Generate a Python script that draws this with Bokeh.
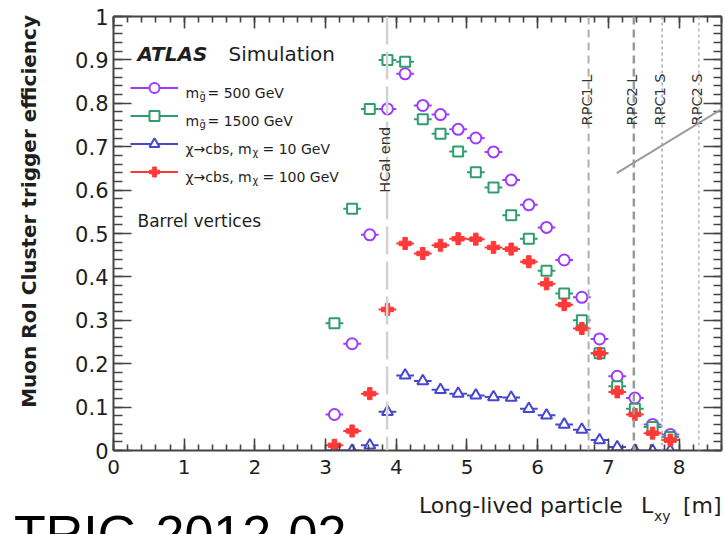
import math
import numpy as np
from bokeh.plotting import figure
from bokeh.layouts import column, row
from bokeh.models import (Range1d, LinearAxis, SingleIntervalTicker, PrintfTickFormatter,
                          Span, Label, Legend, LegendItem, Arrow, ColumnDataSource, Div)
from bokeh.embed import file_html
from bokeh.resources import INLINE

# ---------------- data ----------------
lxy = [3.125, 3.375, 3.625, 3.875, 4.125, 4.375, 4.625, 4.875, 5.125, 5.375,
       5.625, 5.875, 6.125, 6.375, 6.625, 6.875, 7.125, 7.375, 7.625, 7.875]
bin_half_width = 0.125

eff_gluino500 = [0.083, 0.246, 0.497, 0.787, 0.868, 0.795, 0.774, 0.740, 0.720, 0.688,
                 0.623, 0.566, 0.514, 0.439, 0.353, 0.257, 0.171, 0.121, 0.060, 0.037]
eff_gluino1500 = [0.293, 0.557, 0.787, 0.900, 0.896, 0.763, 0.730, 0.689, 0.641, 0.606,
                  0.542, 0.488, 0.414, 0.362, 0.300, 0.224, 0.148, 0.096, 0.054, 0.031]
eff_chi10 = [0.000, 0.000, 0.012, 0.089, 0.173, 0.160, 0.140, 0.131, 0.127, 0.123,
             0.122, 0.096, 0.081, 0.060, 0.048, 0.024, 0.008, 0.000, 0.000, 0.000]
eff_chi100 = [0.012, 0.045, 0.131, 0.325, 0.477, 0.454, 0.473, 0.488, 0.487, 0.468,
              0.464, 0.435, 0.384, 0.336, 0.281, 0.224, 0.135, 0.083, 0.040, 0.024]

detector_names = ["HCal end", "RPC1 L", "RPC2 L", "RPC1 S", "RPC2 S"]
detector_lxy = [3.87, 6.72, 7.36, 7.76, 8.28]

x_range = (0, 8.6)
y_range = (0, 1)

pointer_x = [7.118, 8.667]
pointer_y = [0.639, 0.793]

y_title = "Muon RoI Cluster trigger efficiency"
x_title_main, x_title_sym, x_title_sub, x_title_unit = "Long-lived particle", "L", "xy", "[m]"
slide_ref = "TRIG-2012-02"

# ---------------- figure ----------------
FONT = "DejaVu Sans"
DARK = "#1e1e1e"
AX = "#444444"
YDIV_W = 50

p = figure(width=725 - YDIV_W, height=488, output_backend="svg", toolbar_location=None,
           x_range=Range1d(*x_range), y_range=Range1d(*y_range),
           min_border_left=113 - YDIV_W, min_border_right=4, min_border_top=16,
           min_border_bottom=38, x_axis_location=None, y_axis_location=None)
p.grid.visible = False
p.outline_line_color = None
p.background_fill_color = "white"
p.border_fill_color = "white"

xt = SingleIntervalTicker(interval=1, num_minor_ticks=5)
yt = SingleIntervalTicker(interval=0.1, num_minor_ticks=5)


def style_axis(ax, maj, mnr, show_labels, size="20px", standoff=8):
    ax.major_tick_in = maj
    ax.major_tick_out = 0
    ax.minor_tick_in = mnr
    ax.minor_tick_out = 0
    ax.axis_line_color = AX
    ax.axis_line_width = 2
    ax.major_tick_line_color = AX
    ax.major_tick_line_width = 1.6
    ax.minor_tick_line_color = AX
    ax.minor_tick_line_width = 1.6
    if show_labels:
        ax.major_label_text_font = FONT
        ax.major_label_text_font_size = size
        ax.major_label_text_color = DARK
        ax.major_label_standoff = standoff
    else:
        ax.major_label_text_font_size = "0px"
        ax.major_label_text_color = None
        ax.major_label_standoff = 0


xb = LinearAxis(ticker=xt)
style_axis(xb, 12, 6, True, "20px", 9)
p.add_layout(xb, "below")
xa = LinearAxis(ticker=xt)
style_axis(xa, 12, 6, False)
p.add_layout(xa, "above")
yl = LinearAxis(ticker=yt, formatter=PrintfTickFormatter(format="%.3g"))
style_axis(yl, 18, 9, True, "21px", 5)
p.add_layout(yl, "left")
yr = LinearAxis(ticker=yt)
style_axis(yr, 18, 8, False)
p.add_layout(yr, "right")

# ---------------- detector boundaries ----------------
line_styles = [
    dict(line_color="#d2d2d2", line_width=2.5, line_dash="28 7"),
    dict(line_color="#b0b0b0", line_width=2, line_dash="8 5"),
    dict(line_color="#9a9a9a", line_width=2.5, line_dash="8 5"),
    dict(line_color="#a8a8a8", line_width=1.5, line_dash="3 3"),
    dict(line_color="#b8b8b8", line_width=1.5, line_dash="3 3"),
]
label_y = [0.594, 0.749, 0.749, 0.749, 0.749]
for name, xv, st, ly in zip(detector_names, detector_lxy, line_styles, label_y):
    p.add_layout(Span(location=xv, dimension="height", **st))
    p.add_layout(Label(x=xv, y=ly, x_offset=-2, text=name, angle=math.pi / 2,
                       text_font=FONT, text_font_size="14.5px", text_color="#333333",
                       text_align="left", text_baseline="alphabetic"))

# ---------------- series ----------------
series = [
    (eff_gluino500, "#9d3cff", "circle", 11, "white"),
    (eff_gluino1500, "#2e9e6e", "square", 10, "white"),
    (eff_chi10, "#4646d2", "triangle", 11, "white"),
    (eff_chi100, "#ff3838", "plus", 12, None),
]
x_arr = np.array(lxy)
items = []
for vals, col, mk, sz, fill in series:
    src = ColumnDataSource(dict(x=x_arr, y=np.array(vals),
                                x0=x_arr - bin_half_width, x1=x_arr + bin_half_width))
    seg = p.segment(x0="x0", y0="y", x1="x1", y1="y", source=src, line_color=col, line_width=2)
    sc = p.scatter("x", "y", source=src, marker=mk, size=sz, line_color=col,
                   fill_color=fill if fill else col, line_width=2 if fill else 1)
    items.append(LegendItem(label=" ", renderers=[seg, sc]))

legend = Legend(items=items, location=(17, 266), glyph_width=48, glyph_height=25,
                spacing=3, padding=0, margin=0, label_text_font_size="1px",
                label_text_color=None,
                label_standoff=0, label_width=1, label_height=25,
                background_fill_alpha=0, border_line_alpha=0, inactive_fill_alpha=0)
p.add_layout(legend)

# ---------------- texts inside the frame ----------------
FL, FB = 113, 450  # frame left / bottom in page pixels


def txt(text, px, py, size, style="normal", font=FONT, color=DARK, align="left", angle=0.0):
    p.add_layout(Label(x=px - FL, y=FB - py, x_units="screen", y_units="screen", text=text,
                       text_font=font, text_font_size=size, text_font_style=style,
                       text_color=color, text_align=align, text_baseline="alphabetic",
                       angle=angle))


txt("ATLAS", 137, 53, "20px", "bold italic")
txt("Simulation", 228, 53, "20px")

leg_rows = [
    ("m", "g\u0303", "= 500 GeV", 92.5, 199, 207),
    ("m", "g\u0303", "= 1500 GeV", 120.5, 199, 207),
    ("\u03c7\u2192cbs, m", "\u03c7", "= 10 GeV", 148, 252, 262),
    ("\u03c7\u2192cbs, m", "\u03c7", "= 100 GeV", 176, 252, 262),
]
for a, sub, b, base, xs, xb2 in leg_rows:
    txt(a, 185, base, "14px")
    txt(sub, xs, base + 3.5, "10px")
    txt(b, xb2, base, "14px")

txt("Barrel vertices", 137, 220, "17px")

# slide pointer line
p.add_layout(Arrow(end=None, x_start=pointer_x[0], y_start=pointer_y[0],
                   x_end=pointer_x[1], y_end=pointer_y[1],
                   line_color="#9a9a9a", line_width=2))

# ---------------- y title (left strip) ----------------
ytitle_html = (
    f'<div style="position:relative;width:{YDIV_W}px;height:488px;overflow:hidden;">'
    '<span style="position:absolute;left:19.1px;top:435px;width:420px;text-align:right;'
    'transform:rotate(-90deg);transform-origin:0 0;white-space:nowrap;'
    "font-family:'DejaVu Sans';font-weight:bold;font-size:20px;line-height:20px;"
    f'color:{DARK};">{y_title}</span></div>')
ydiv = Div(text=ytitle_html, width=YDIV_W, height=488, margin=0)

# ---------------- strip below the plot: x title + slide reference ----------------
DIV_TOP = 488


def span(text, left, baseline, size, font="'DejaVu Sans'", asc=0.846, color=DARK):
    top = baseline - DIV_TOP - asc * size
    return (f'<span style="position:absolute;left:{left}px;top:{top:.1f}px;'
            f'font-family:{font};font-size:{size}px;line-height:{size}px;'
            f'white-space:nowrap;color:{color};">{text}</span>')


html = ('<div style="position:relative;width:725px;height:46px;overflow:hidden;">'
        + span(x_title_main, 419, 514, 22)
        + span(x_title_sym, 641, 514, 22)
        + span(x_title_sub, 654, 521, 14)
        + span(x_title_unit, 683, 514, 22)
        + span(slide_ref, 14, 552, 52, font="'Liberation Sans'", asc=0.8465, color="#000000")
        + '</div>')
strip = Div(text=html, width=725, height=46, margin=0)

layout = column(row(ydiv, p, spacing=0), strip, spacing=0)
open("out.html", "w").write(file_html(layout, INLINE))
